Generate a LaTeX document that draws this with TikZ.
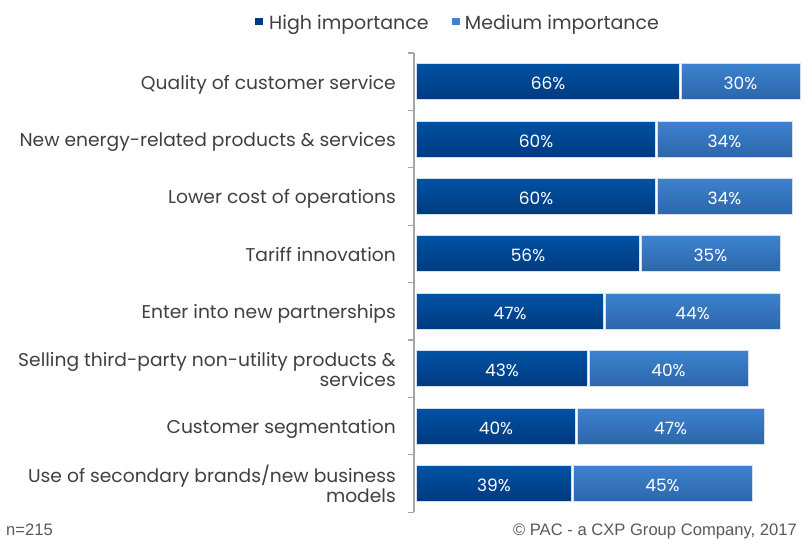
\documentclass[tikz,border=0pt]{standalone}
\usepackage{fontspec}
\setmainfont{Poppins}
\newfontfamily\labfont[FakeStretch=1.01]{Poppins}
\newfontfamily\footfont{Liberation Sans}
\definecolor{hiTop}{HTML}{0052A3}
\definecolor{hiBot}{HTML}{003A80}
\definecolor{meTop}{HTML}{3C82CF}
\definecolor{meBot}{HTML}{2C66AA}
\definecolor{edge}{HTML}{D2E0F0}
\definecolor{txt}{HTML}{404040}
\definecolor{axisgray}{HTML}{A6A6A6}
\definecolor{foot}{HTML}{595959}
\tikzset{
  hiseg/.style={top color=hiTop,bottom color=hiBot,draw=edge,line width=1pt},
  meseg/.style={top color=meTop,bottom color=meBot,draw=edge,line width=1pt},
  pct/.style={text=white,font=\fontsize{17}{20}\selectfont,inner sep=0pt,anchor=base},
  catlabel/.style={text=txt,font=\labfont\fontsize{18.5}{20}\selectfont,align=right,inner sep=0pt},
  legtext/.style={text=txt,font=\fontsize{19}{20}\selectfont,anchor=base west,inner sep=0pt},
  legmark/.style={minimum size=7.5pt,inner sep=0pt},
  axisline/.style={draw=axisgray,line width=1.2pt},
  foottext/.style={text=foot,font=\footfont\fontsize{16.6}{18}\selectfont,inner sep=0pt}
}
\begin{document}
\begin{tikzpicture}[x=1pt,y=-1pt]
\useasboundingbox (0,0) rectangle (803,539);
% legend
\node[legmark,fill=hiBot] (lm1) at (258.8,21.7) {};
\node[legtext] (lt1) at (269,29.3) {High importance};
\node[legmark,fill=meTop] (lm2) at (455.8,21.7) {};
\node[legtext] (lt2) at (464.7,29.3) {Medium importance};
% axis
\coordinate (axTop) at (414,53);
\coordinate (axBot) at (414,512);
\draw[axisline] (axTop) -- (axBot);
\foreach \k in {0,...,8}{
  \coordinate (tk\k) at (408,53+57.4*\k);
  \coordinate (ta\k) at (414,53+57.4*\k);
  \draw[axisline] (tk\k) -- (ta\k);
}
% bars
\def\sc{4}
\def\xo{416}
\foreach \i/\lab/\h/\m/\two in {
  0/{Quality of customer service}/66/30/0,
  1/{New energy-related products \& services}/60/34/0,
  2/{Lower cost of operations}/60/34/0,
  3/{Tariff innovation}/56/35/0,
  4/{Enter into new partnerships}/47/44/0,
  5/{Selling third-party non-utility products \&\\services}/43/40/1,
  6/{Customer segmentation}/40/47/0,
  7/{Use of secondary brands/new business\\models}/39/45/1}{
  \pgfmathsetmacro{\yc}{53+57.4*(\i+0.5)}
  \pgfmathsetmacro{\xh}{\xo+\sc*\h}
  \pgfmathsetmacro{\xm}{\xo+\sc*(\h+\m)}
  \ifnum\two=0
    \node[catlabel,anchor=base east] (cat\i) at (396,\yc+7.3) {\lab};
  \else
    \node[catlabel,anchor=east] (cat\i) at (396,\yc+0.5) {\lab};
  \fi
  \path[hiseg] (\xo,\yc-18) rectangle (\xh-0.5,\yc+18);
  \path[meseg] (\xh+1.5,\yc-18) rectangle (\xm,\yc+18);
  \node[pct] (ph\i) at ({(\xo+\xh)/2},\yc+8) {\h\%};
  \node[pct] (pm\i) at ({(\xh+\xm)/2+0.5},\yc+8) {\m\%};
}
% footer
\node[foottext,anchor=base west] (n) at (6,535.3) {n=215};
\node[foottext,anchor=base east] (copy) at (797,535.3) {© PAC - a CXP Group Company, 2017};
\end{tikzpicture}
\end{document}
